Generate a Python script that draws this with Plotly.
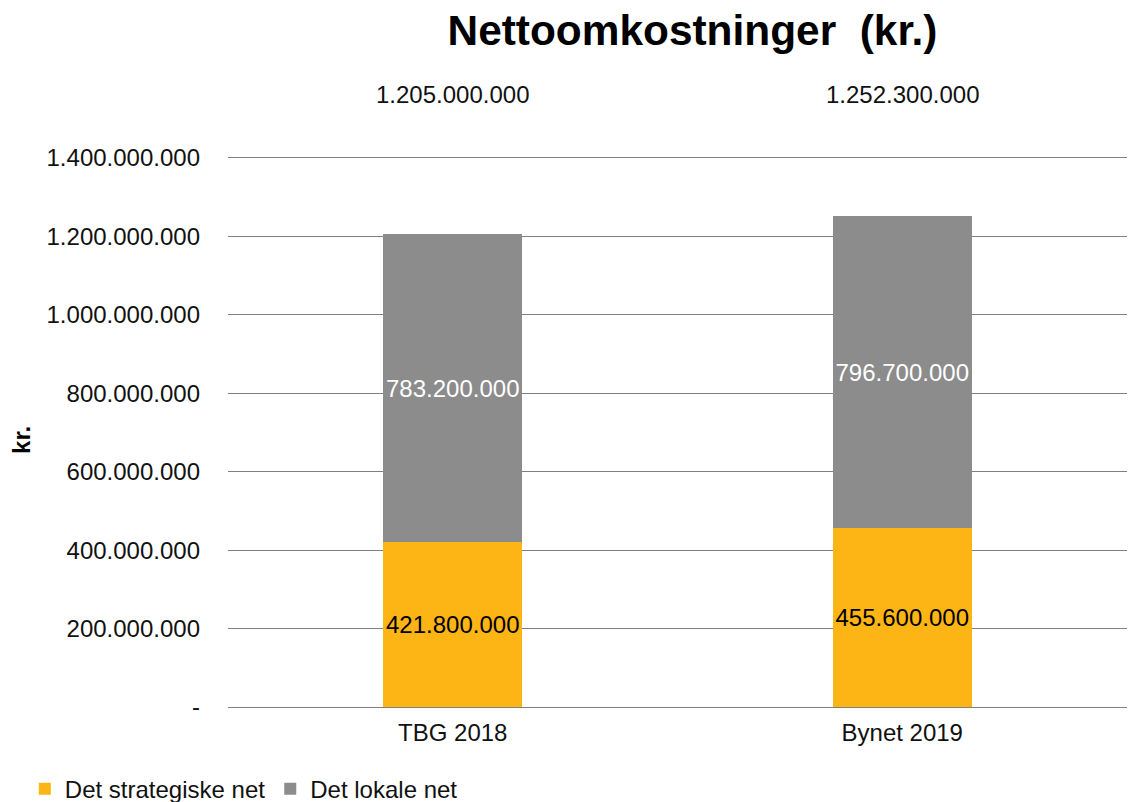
import plotly.graph_objects as go

categories = ["TBG 2018", "Bynet 2019"]
strategisk = [421800000, 455600000]
lokalt = [783200000, 796700000]
totals = [1205000000, 1252300000]
tick_vals = [0, 200000000, 400000000, 600000000, 800000000, 1000000000, 1200000000, 1400000000]
tick_text = ["-", "200.000.000", "400.000.000", "600.000.000", "800.000.000",
             "1.000.000.000", "1.200.000.000", "1.400.000.000"]


def dk(v):
    return f"{v:,}".replace(",", ".")


FONT = "Liberation Sans, Arial, sans-serif"

fig = go.Figure()
fig.add_trace(go.Bar(
    x=categories, y=strategisk, name="Det strategiske net",
    marker={"color": "#FDB515", "line": {"width": 0}},
    width=0.31,
    text=[dk(v) for v in strategisk], textposition="inside", textangle=0,
    insidetextanchor="middle", constraintext="none",
    textfont={"color": "#000000", "size": 24, "family": FONT},
))
fig.add_trace(go.Bar(
    x=categories, y=lokalt, name="Det lokale net",
    marker={"color": "#8C8C8C", "line": {"width": 0}},
    width=0.31,
    text=[dk(v) for v in lokalt], textposition="inside", textangle=0,
    insidetextanchor="middle", constraintext="none",
    textfont={"color": "#ffffff", "size": 24, "family": FONT},
))

annotations = []
for cat, tot in zip(categories, totals):
    annotations.append({
        "x": cat, "y": 1.1105, "xref": "x", "yref": "paper", "yanchor": "middle",
        "text": dk(tot), "showarrow": False,
        "font": {"size": 24, "color": "#111111", "family": FONT},
    })
annotations.append({
    "x": -0.229, "y": 0.484, "xref": "paper", "yref": "paper",
    "xanchor": "center", "yanchor": "middle",
    "text": "<b>kr.</b>", "showarrow": False, "textangle": -90,
    "font": {"size": 24, "color": "#000000", "family": FONT},
})

fig.update_layout(
    width=1129, height=794,
    barmode="stack",
    paper_bgcolor="#ffffff", plot_bgcolor="#ffffff",
    margin={"l": 220, "r": 10, "t": 147, "b": 95, "autoexpand": False},
    font={"family": FONT, "size": 24, "color": "#111111"},
    title={
        "text": "<b>Nettoomkostninger  (kr.)</b>",
        "x": 0.6063, "xref": "container", "xanchor": "center",
        "y": 0.972, "yref": "container", "yanchor": "middle",
        "font": {"size": 42.4, "color": "#000000", "family": FONT},
    },
    xaxis={"showgrid": False, "showline": False, "ticks": "", "tickfont": {"size": 24},
           "ticklabelstandoff": 9, "automargin": False},
    yaxis={
        "range": [0, 1407600000], "tickvals": tick_vals, "ticktext": tick_text,
        "showgrid": True, "gridcolor": "#808080", "gridwidth": 1,
        "zeroline": True, "zerolinecolor": "#808080", "zerolinewidth": 1,
        "ticklabelstandoff": 27, "tickfont": {"size": 24}, "automargin": False,
    },
    legend={
        "orientation": "h", "x": -0.226, "xanchor": "left",
        "y": -0.1486, "yanchor": "middle", "traceorder": "normal",
        "font": {"size": 24}, "itemwidth": 30,
    },
    annotations=annotations,
)

fig.write_html("out.html")
